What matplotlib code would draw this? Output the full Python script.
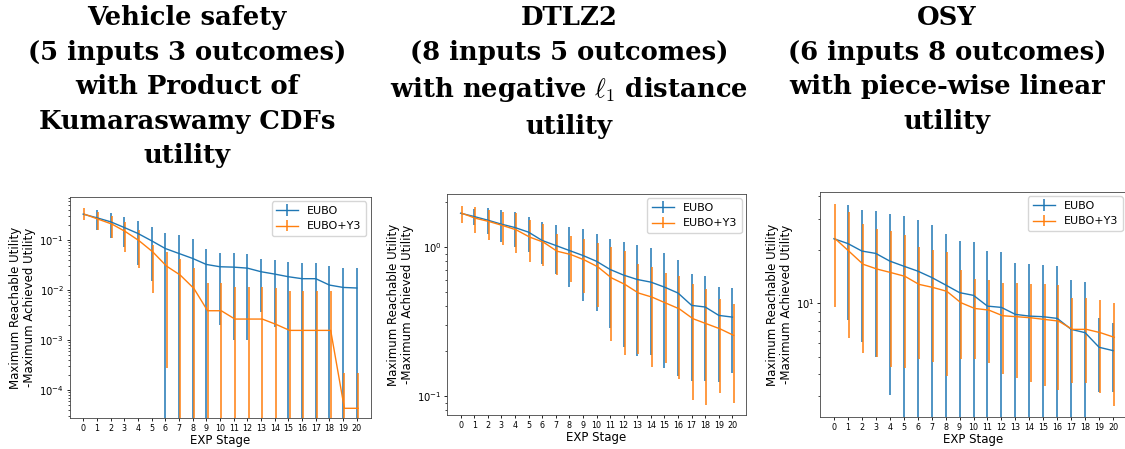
import numpy as np
import matplotlib
matplotlib.use("Agg")
import matplotlib.pyplot as plt
from matplotlib.ticker import NullFormatter

# ---------------- data ----------------
stages = list(range(21))
stage_labels = [str(s) for s in stages]

titles = [
    "Vehicle safety\n(5 inputs 3 outcomes)\nwith Product of\nKumaraswamy CDFs\nutility",
    "DTLZ2\n(8 inputs 5 outcomes)\nwith negative $\\ell_1$ distance\nutility",
    "OSY\n(6 inputs 8 outcomes)\nwith piece-wise linear\nutility",
]
series_names = ["EUBO", "EUBO+Y3"]

# Vehicle safety
vs_eubo_mean = [0.331, 0.28, 0.233, 0.179, 0.136, 0.097, 0.068, 0.054, 0.043, 0.0326, 0.0293,
                0.0288, 0.0275, 0.0233, 0.0209, 0.0185, 0.0169, 0.0169, 0.0126, 0.0113, 0.011]
vs_eubo_hi = [0.331, 0.398, 0.357, 0.284, 0.24, 0.179, 0.142, 0.126, 0.105, 0.066, 0.056,
              0.054, 0.053, 0.0417, 0.0398, 0.0368, 0.0352, 0.0352, 0.0302, 0.0271, 0.0271]
vs_eubo_lo = [0.331, 0.16, 0.109, 0.074, 0.032, 0.015, 0, 0, 0, 0, 0.002,
              0.001, 0.001, 0.0037, 0.0018, 0, 0, 0, 0, 0, 0]
vs_y3_mean = [0.331, 0.263, 0.21, 0.148, 0.097, 0.058, 0.0302, 0.02, 0.0108, 0.00386, 0.00386,
              0.00263, 0.00263, 0.00263, 0.00206, 0.00156, 0.00156, 0.00156, 0.00156, 4.3e-5, 4.3e-5]
vs_y3_hi = [0.43, 0.369, 0.307, 0.233, 0.163, 0.079, 0.0584, 0.0417, 0.028, 0.0136, 0.0136,
            0.0113, 0.0113, 0.0113, 0.0108, 0.0097, 0.0097, 0.0097, 0.0097, 0.000216, 0.000216]
vs_y3_lo = [0.25, 0.158, 0.108, 0.058, 0.028, 0.0086, 0.00027, 0, 0, 0, 0,
            0, 0, 0, 0, 0, 0, 0, 0, 0, 0]

# DTLZ2
dt_eubo_mean = [1.68, 1.596, 1.509, 1.419, 1.347, 1.254, 1.103, 1.021, 0.945, 0.875, 0.80,
                0.705, 0.646, 0.604, 0.58, 0.537, 0.49, 0.405, 0.395, 0.347, 0.338]
dt_eubo_hi = [1.68, 1.796, 1.815, 1.778, 1.706, 1.596, 1.462, 1.404, 1.354, 1.319, 1.222,
              1.12, 1.075, 1.036, 0.98, 0.911, 0.81, 0.653, 0.636, 0.542, 0.531]
dt_eubo_lo = [1.68, 1.403, 1.222, 1.074, 0.995, 0.921, 0.769, 0.653, 0.54, 0.431, 0.371,
              0.285, 0.213, 0.185, 0.187, 0.155, 0.136, 0.126, 0.126, 0.124, 0.143]
dt_y3_mean = [1.68, 1.555, 1.478, 1.39, 1.3, 1.161, 1.075, 0.935, 0.889, 0.818, 0.735,
              0.62, 0.56, 0.49, 0.46, 0.42, 0.384, 0.33, 0.305, 0.282, 0.255]
dt_y3_hi = [1.89, 1.844, 1.778, 1.725, 1.69, 1.516, 1.413, 1.222, 1.185, 1.12, 1.054,
            0.995, 0.935, 0.762, 0.731, 0.666, 0.633, 0.56, 0.518, 0.449, 0.415]
dt_y3_lo = [1.448, 1.235, 1.114, 1.021, 0.907, 0.789, 0.742, 0.649, 0.58, 0.492, 0.396,
            0.234, 0.187, 0.19, 0.156, 0.167, 0.131, 0.0945, 0.0866, 0.105, 0.0898]

# OSY
osy_eubo_mean = [23.1, 21.7, 19.7, 19.1, 17.3, 16.2, 15.2, 14.0, 12.7, 11.5, 11.1,
                 9.66, 9.5, 8.68, 8.49, 8.42, 8.24, 7.15, 6.85, 5.67, 5.43]
osy_eubo_hi = [23.1, 35.6, 33.6, 33.1, 31.7, 30.9, 29.3, 27.5, 24.7, 22.4, 22.2,
               19.7, 19.5, 16.9, 16.6, 16.5, 16.3, 13.6, 13.2, 8.24, 7.73]
osy_eubo_lo = [23.1, 8.07, 6.04, 5.02, 3.06, 0, 0, 0, 0, 0, 0,
               0, 0, 0, 0, 0, 0, 0, 0, 3.17, 3.17]
osy_y3_mean = [23.1, 19.6, 16.6, 15.6, 14.9, 14.2, 12.8, 12.3, 11.7, 10.1, 9.37,
               9.18, 8.53, 8.42, 8.31, 8.13, 7.96, 7.15, 7.15, 6.85, 6.45]
osy_y3_hi = [36.4, 32.7, 28.1, 26.1, 25.5, 24.2, 20.8, 19.9, 19.5, 15.4, 13.8,
             13.6, 13.1, 13.1, 12.9, 12.8, 12.7, 10.7, 10.7, 10.4, 10.1]
osy_y3_lo = [9.57, 6.37, 5.25, 5.02, 4.42, 4.32, 4.86, 4.71, 3.93, 4.86, 4.86,
             4.65, 4.0, 3.83, 3.61, 3.44, 3.26, 3.59, 3.59, 3.13, 2.64]

# ---------------- layout / style ----------------
W, H = 1125, 449
fig = plt.figure(figsize=(W / 100, H / 100), dpi=100)
plt.rcParams['font.family'] = ['DejaVu Sans']

panels = [
    dict(box=(69.5, 370.5, 197, 418), ylim=(2.75e-5, 0.73), title_x=187,
         data=[(vs_eubo_mean, vs_eubo_lo, vs_eubo_hi), (vs_y3_mean, vs_y3_lo, vs_y3_hi)]),
    dict(box=(447, 746, 194, 415), ylim=(0.0746, 2.26), title_x=569,
         data=[(dt_eubo_mean, dt_eubo_lo, dt_eubo_hi), (dt_y3_mean, dt_y3_lo, dt_y3_hi)]),
    dict(box=(820, 1127, 192, 417), ylim=(2.3, 42.3), title_x=947,
         data=[(osy_eubo_mean, osy_eubo_lo, osy_eubo_hi), (osy_y3_mean, osy_y3_lo, osy_y3_hi)]),
]
colors = ["#1f77b4", "#ff7f0e"]
DODGE = [0.0, 0.09]

x = np.array(stages, dtype=float)
for p, title in zip(panels, titles):
    l, r, t, b = p['box']
    ax = fig.add_axes([l / W, 1 - b / H, (r - l) / W, (b - t) / H])
    ax.set_yscale('log')
    for (mean, lo, hi), name, c, dx in zip(p['data'], series_names, colors, DODGE):
        mean = np.array(mean); lo = np.array(lo); hi = np.array(hi)
        ax.errorbar(x + dx, mean, yerr=[mean - lo, hi - mean], color=c, lw=1.0,
                    elinewidth=1.1, label=name)
    ax.set_xlim(-1, 21)
    ax.set_ylim(*p['ylim'])
    ax.set_xticks(stages)
    ax.set_xticklabels(stage_labels, fontsize=5.8)
    ax.yaxis.set_minor_formatter(NullFormatter())
    ax.tick_params(axis='y', which='major', labelsize=7.2, length=2.5, width=0.6, pad=1.5)
    ax.tick_params(axis='y', which='minor', length=1.5, width=0.5)
    ax.tick_params(axis='x', length=2.5, width=0.6, pad=1.5)
    for s in ax.spines.values():
        s.set_linewidth(0.6)
        s.set_color('#444444')
    ax.set_xlabel("EXP Stage", fontsize=8.5, labelpad=1)
    ax.set_ylabel("Maximum Reachable Utility\n-Maximum Achieved Utility", fontsize=8.5,
                  labelpad=2, linespacing=1.1)
    ax.legend(loc='upper right', fontsize=8, framealpha=0.8, borderaxespad=0.4,
              handlelength=2.0, edgecolor='#cccccc')
    fig.text(p['title_x'] / W, 1 - 5 / H, title, ha='center', va='top',
             fontsize=18.6, fontweight='bold', family='DejaVu Serif',
             linespacing=1.48, math_fontfamily='cm')

fig.savefig("out.png", dpi=100)
